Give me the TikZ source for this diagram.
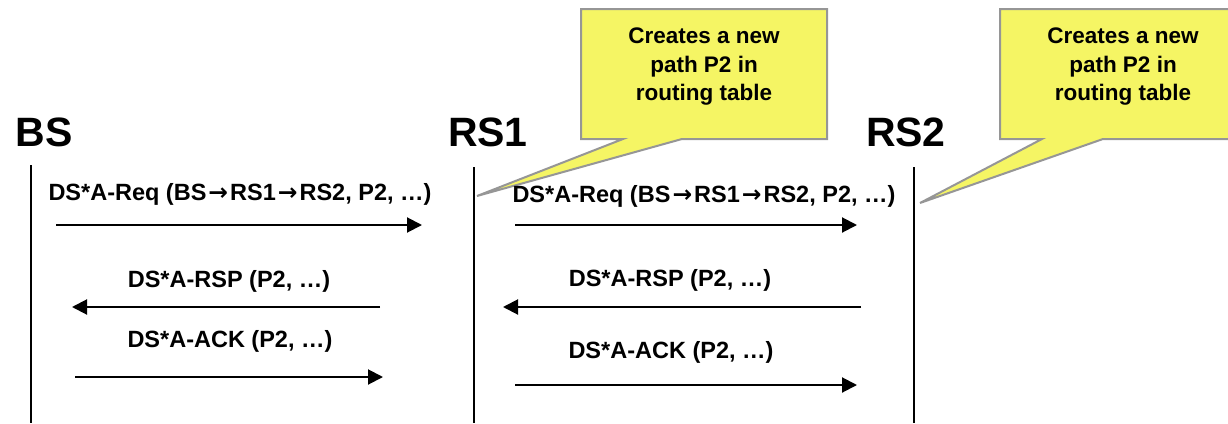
\documentclass[tikz,border=0pt]{standalone}
\usepackage{fontspec}
\setmainfont{Liberation Sans}
\newfontfamily\arrowfont{DejaVu Sans}
\newcommand{\rarr}{\hspace{2pt}{\arrowfont\bfseries →}\hspace{2pt}}
\usetikzlibrary{positioning, arrows.meta, backgrounds}

\definecolor{notefill}{RGB}{245,245,100}
\definecolor{noteline}{RGB}{150,150,150}

\tikzset{
  station/.style={anchor=base west, inner sep=0pt, font=\bfseries\fontsize{41}{41}\selectfont},
  msg/.style={anchor=base, inner sep=0pt, font=\bfseries\fontsize{23.5}{28}\selectfont},
  notebox/.style={minimum width=244pt, minimum height=128pt, inner sep=0pt},
  notetext/.style={align=center, inner sep=0pt, font=\bfseries\fontsize{22.5}{28.5}\selectfont},
  note/.style={fill=notefill, draw=noteline, line width=2pt},
  life/.style={line width=2pt},
}

\begin{document}
\begin{tikzpicture}[x=1pt, y=-1pt, >={Triangle[length=15pt, width=15pt]}, line width=2pt]
    \useasboundingbox (0,0) rectangle (1228,423);

    % stations and lifelines
    \node[station] (BS) at (15,146) {BS};
    \node[station] (RS1) at (447,146) {RS1};
    \node[station] (RS2) at (865,146) {RS2};
    \coordinate (bsTop) at (31,165);  \coordinate (bsEnd) at (31,423);
    \coordinate (rs1Top) at (474,167); \coordinate (rs1End) at (474,423);
    \coordinate (rs2Top) at (914,167); \coordinate (rs2End) at (914,423);
    \draw[life] (bsTop) -- (bsEnd);
    \draw[life] (rs1Top) -- (rs1End);
    \draw[life] (rs2Top) -- (rs2End);

    % callouts
    \node[notebox] (box1) at (704,74) {};
    \node[notebox] (box2) at (1123,74) {};
    \coordinate (tip1) at (477,196);
    \coordinate (tip2) at (920,203);
    \begin{scope}[on background layer]
        \draw[note] (box1.north west) -- (box1.north east) -- (box1.south east)
            -- ([xshift=-22pt]box1.south) -- (tip1) -- ([xshift=-81pt]box1.south)
            -- (box1.south west) -- cycle;
        \draw[note] (box2.north west) -- (box2.north east) -- (box2.south east)
            -- ([xshift=-20pt]box2.south) -- (tip2) -- ([xshift=-81pt]box2.south)
            -- (box2.south west) -- cycle;
    \end{scope}
    \node[notetext] (note1) at ([yshift=7pt]box1.center) {Creates a new\\path P2 in\\routing table};
    \node[notetext] (note2) at ([yshift=7pt]box2.center) {Creates a new\\path P2 in\\routing table};

    % BS -- RS1
    \node[msg] (req1) at (240,200) {DS*A-Req (BS\rarr RS1\rarr RS2, P2, …)};
    \node[msg] (rsp1) at (229,287) {DS*A-RSP (P2, …)};
    \node[msg] (ack1) at (230,347) {DS*A-ACK (P2, …)};
    \coordinate (a1) at (56,225);  \coordinate (b1) at (422,225);
    \coordinate (a2) at (380,307); \coordinate (b2) at (72,307);
    \coordinate (a3) at (75,377);  \coordinate (b3) at (383,377);

    % RS1 -- RS2
    \node[msg] (req2) at (704,202) {DS*A-Req (BS\rarr RS1\rarr RS2, P2, …)};
    \node[msg] (rsp2) at (670,286) {DS*A-RSP (P2, …)};
    \node[msg] (ack2) at (671,358) {DS*A-ACK (P2, …)};
    \coordinate (c1) at (515,225); \coordinate (d1) at (857,225);
    \coordinate (c2) at (861,307); \coordinate (d2) at (503,307);
    \coordinate (c3) at (515,385); \coordinate (d3) at (857,385);

    \path[->]
    (a1) edge (b1)
    (a2) edge (b2)
    (a3) edge (b3)
    (c1) edge (d1)
    (c2) edge (d2)
    (c3) edge (d3);
\end{tikzpicture}
\end{document}
